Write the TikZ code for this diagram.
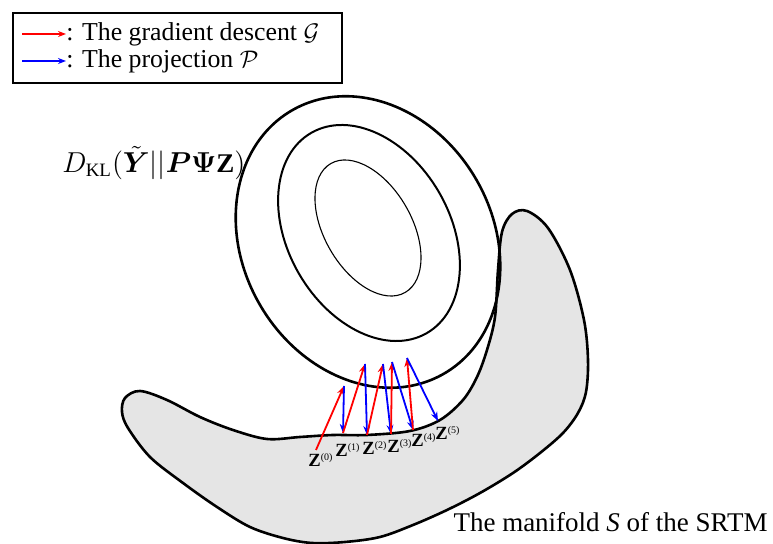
\documentclass[tikz,border=0pt]{standalone}
\usepackage{amsmath,amssymb}
\usepackage{fontspec}
\setmainfont{Liberation Serif}
\usetikzlibrary{arrows.meta,positioning}

% iterate label Z^(k)
\newcommand{\zit}[1]{\textbf{Z}\raisebox{3.3pt}{\fontsize{5}{6}\selectfont(#1)}}

\begin{document}
\begin{tikzpicture}[
    x=0.5pt, y=-0.5pt,
    every node/.style={inner sep=0pt},
    gdarrow/.style={-{Stealth[length=4.5pt,width=3.4pt]}, red, line width=0.9pt},
    projarrow/.style={-{Stealth[length=4.5pt,width=3.4pt]}, blue, line width=0.9pt},
    legarrow/.style={-{Stealth[length=4pt,width=3pt]}, line width=0.6pt},
    legtext/.style={anchor=west, font=\fontsize{12.9}{14}\selectfont},
    zlabel/.style={anchor=base west, font=\fontsize{9.3}{10}\selectfont},
    contour/.style={draw=black},
    manifold/.style={draw=black, fill=black!10, line width=1.3pt},
]

% ── frame ────────────────────────────────────────────────────
\useasboundingbox (0,0) rectangle (773,544);

% ════ MANIFOLD ═══════════════════════════════════════════════
\draw[manifold] plot[smooth cycle, tension=0.55] coordinates {
    (527,211) (548,228) (570,270) (584,320) (588,360) (586,392)
    (578,413) (563,433) (540,453) (513,473) (480,493) (447,510)
    (413,525) (380,537) (345,542) (312,543) (283,538) (250,527)
    (217,507) (183,483) (150,457) (128,428) (122,412) (125,398)
    (140,391) (167,400) (200,417) (233,430) (267,439) (300,437)
    (333,435) (367,435) (410,431) (440,420) (463,400) (477,377)
    (487,350) (495,317) (498,270) (502,232) (512,214)};

% ════ LEVEL SETS ═════════════════════════════════════════════
\coordinate (cOut) at (368,242);
\coordinate (cMid) at (369,233);
\coordinate (cIn)  at (368,228);
\draw[contour, line width=1.3pt, rotate around={-60:(cOut)}]
    (cOut) ellipse [x radius=76pt, y radius=62.5pt];
\draw[contour, line width=1pt, rotate around={-60:(cMid)}]
    (cMid) ellipse [x radius=57.8pt, y radius=40.5pt];
\draw[contour, line width=0.55pt, rotate around={-60:(cIn)}]
    (cIn) ellipse [x radius=37.2pt, y radius=21.8pt];

\node[anchor=west, font=\fontsize{13.5}{16}\selectfont] (dkl) at (62,163)
    {$D_{\mathrm{KL}}(\tilde{\boldsymbol{Y}}||\boldsymbol{P}\boldsymbol{\Psi}\mathbf{Z})$};

% ════ ITERATES ═══════════════════════════════════════════════
\coordinate (z0) at (316,450);
\coordinate (z1) at (343,433);
\coordinate (z2) at (367,435);
\coordinate (z3) at (391,434);
\coordinate (z4) at (413,430);
\coordinate (z5) at (438,421);
\coordinate (g0) at (344,386);
\coordinate (g1) at (365,364);
\coordinate (g2) at (383,364);
\coordinate (g3) at (392,362);
\coordinate (g4) at (407,358);

% gradient step, then projection back
\foreach \i [count=\j from 1] in {0,...,4}{
    \draw[gdarrow]   (z\i) -- (g\i);
    \draw[projarrow] (g\i) -- (z\j);
}

\node[zlabel] (lz0) at (308,467) {\zit{0}};
\node[zlabel] (lz1) at (335,457) {\zit{1}};
\node[zlabel] (lz2) at (362,455) {\zit{2}};
\node[zlabel] (lz3) at (387,453) {\zit{3}};
\node[zlabel] (lz4) at (411,447) {\zit{4}};
\node[zlabel] (lz5) at (435,440) {\zit{5}};

\node[anchor=base east, font=\fontsize{13.5}{16}\selectfont] (mlab) at (768,532)
    {The manifold \textit{S} of the SRTM};

% ════ LEGEND ═════════════════════════════════════════════════
\draw[line width=0.8pt] (13,13) rectangle (342,83);
\node[legtext] (lgG) at (66,34) {: The gradient descent $\mathcal{G}$};
\node[legtext] (lgP) at (66,61) {: The projection $\mathcal{P}$};
\coordinate (aG) at (22,34);
\coordinate (aP) at (22,61);
\draw[legarrow, red]  (aG) -- (lgG.west);
\draw[legarrow, blue] (aP) -- (lgP.west);

\end{tikzpicture}
\end{document}
